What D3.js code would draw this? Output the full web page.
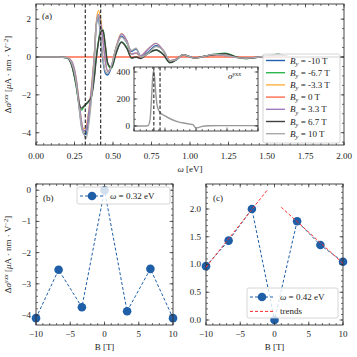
<!DOCTYPE html>
<html><head><meta charset="utf-8">
<script src="https://cdn.jsdelivr.net/npm/d3@7"></script>
<style>
html,body{margin:0;padding:0;background:#fff;}
text{font-family:"Liberation Serif","DejaVu Serif",serif;fill:#222;}
</style></head>
<body><svg id="c" width="357" height="357"></svg>
<script>
// ---------------- DATA ----------------
const omega = [0, 0.15, 0.2, 0.23, 0.26, 0.28, 0.295, 0.31, 0.325, 0.34, 0.36, 0.38, 0.39, 0.405, 0.42, 0.435, 0.45, 0.465, 0.49, 0.52, 0.555, 0.59, 0.62, 0.65, 0.68, 0.72, 0.78, 0.83, 0.87, 0.91, 0.955, 1.03, 1.1, 1.15, 1.23, 1.3, 1.36, 1.45, 1.52, 1.57, 1.63, 1.7, 1.8, 2.0];
const sM10  = [0, 0, -0.03, -0.3, -1.3, -2.6, -3.6, -4.05, -4.1, -3.4, -2.0, 0.2, 1.6, 2.1, 0.97, -0.2, -0.85, -0.95, -0.5, 0.5, 1.1, 0.75, 0.3, 0.42, 0.05, 0.2, 0.6, 0.3, -0.22, -0.15, 0.12, -0.06, 0.05, 0.14, 0.08, -0.02, -0.07, 0.0, 0.04, 0.06, 0.02, 0, 0, 0];
const sM67  = [0, 0, -0.05, -0.4, -1.5, -2.5, -2.8, -2.65, -2.5, -2.4, -2.05, -0.9, -0.1, 0.8, 1.43, 1.45, 0.6, -0.35, -0.6, 0.2, 0.8, 0.5, -0.05, 0.02, -0.05, 0.15, 0.37, 0.1, -0.3, -0.15, 0.12, -0.05, 0.05, 0.12, 0.2, 0.0, -0.08, 0.0, 0.08, 0.15, 0.03, -0.01, 0, 0];
const sM33  = [0, 0, -0.02, -0.2, -1.1, -2.4, -3.4, -3.8, -3.7, -3.0, -1.6, 0.3, 1.7, 2.45, 2.0, 0.9, -0.2, -0.75, -0.5, 0.5, 1.25, 0.85, 0.15, 0.2, 0.05, 0.35, 0.72, 0.3, -0.2, -0.12, 0.1, -0.05, 0.03, 0.1, 0.08, -0.02, -0.07, 0.0, 0.05, 0.07, 0.02, -0.01, 0, 0];
const s0    = [0, 0, 0, 0, 0, 0, 0, 0, 0, 0, 0, 0, 0, 0, 0, 0, 0, 0, 0, 0, 0, 0, 0, 0, 0, 0, 0, 0, 0, 0, 0, 0, 0, 0, 0, 0, 0, 0, 0, 0, 0, 0, 0, 0];
const sP33  = [0, 0, -0.02, -0.2, -1.1, -2.4, -3.4, -3.9, -3.85, -3.1, -1.7, 0.2, 1.6, 2.25, 1.78, 0.85, -0.2, -0.75, -0.5, 0.45, 1.22, 0.85, 0.15, 0.22, 0.05, 0.35, 0.72, 0.3, -0.2, -0.12, 0.1, -0.05, 0.04, 0.12, 0.08, -0.02, -0.07, 0.0, 0.05, 0.08, 0.02, -0.01, 0, 0];
const sP67  = [0, 0, -0.05, -0.4, -1.45, -2.45, -2.7, -2.6, -2.48, -2.35, -2.1, -1.0, -0.2, 0.75, 1.35, 1.4, 0.6, -0.3, -0.55, 0.2, 0.78, 0.45, -0.05, 0.0, -0.08, 0.15, 0.37, 0.1, -0.3, -0.15, 0.12, -0.05, 0.05, 0.12, 0.18, 0.0, -0.08, 0.0, 0.07, 0.13, 0.03, -0.01, 0, 0];
const sP10  = [0, 0, -0.03, -0.3, -1.3, -2.7, -3.7, -4.05, -4.3, -3.7, -2.2, 0.1, 1.5, 2.2, 1.05, -0.1, -0.75, -0.85, -0.45, 0.45, 1.05, 0.75, 0.35, 0.46, 0.0, 0.15, 0.55, 0.3, -0.2, -0.15, 0.12, -0.06, 0.05, 0.14, 0.08, -0.02, -0.07, 0.0, 0.04, 0.06, 0.02, 0, 0, 0];
const seriesLabels = ["-10", "-6.7", "-3.3", "0", "3.3", "6.7", "10"];
const seriesColors = ["#1f5fab", "#2db84d", "#ffb040", "#ff6a4d", "#a07cbf", "#404040", "#aaaaaa"];

const insetOmega  = [0, 0.2, 0.23, 0.26, 0.28, 0.3, 0.315, 0.33, 0.35, 0.37, 0.4, 0.42, 0.5, 0.6, 0.7, 0.8, 0.9, 0.95, 1.0, 1.05, 1.1, 1.2, 1.4, 2.0];
const insetValues = [0, 0, 5, 50, 180, 350, 410, 370, 250, 160, 115, 100, 75, 50, 33, 22, 14, 10, -15, -10, -3, 2, 3, 3];

const vlines = [0.32, 0.42];

const B = [-10, -6.7, -3.3, 0, 3.3, 6.7, 10];
const valB = [-4.1, -2.55, -3.75, 0.0, -3.88, -2.52, -4.1];
const valC = [0.97, 1.43, 2.0, 0.0, 1.78, 1.35, 1.05];
const trendLeftB = [-10, -1], trendLeftV = [0.95, 2.35];
const trendRightB = [1, 10], trendRightV = [2.03, 1.02];

const xTicksA = [0, 0.25, 0.5, 0.75, 1.0, 1.25, 1.5, 1.75, 2.0];
const yTicksA = [-4, -2, 0, 2];
const yTicksInset = [0, 200, 400];
const xTicksB = [-10, -5, 0, 5, 10];
const yTicksB = [-4, -3, -2, -1, 0];
const yTicksC = [0, 0.5, 1.0, 1.5, 2.0];

// ---------------- HELPERS ----------------
const svg = d3.select("#c");
const FS = 9;
const minus = s => s.replace(/-/g, "\u2212");

function rich(t, parts, size) {
  let shift = 0;
  parts.forEach(p => {
    const ts = t.append("tspan").text(p.t);
    const target = p.sup ? -0.38 * size : (p.sub ? 0.25 * size : 0);
    if (target - shift !== 0) ts.attr("dy", target - shift);
    shift = target;
    if (p.sup || p.sub) ts.attr("font-size", size * 0.72);
    if (p.i) ts.attr("font-style", "italic");
  });
}

function frame(g, x, y, xMaj, xMin, yMaj, yMin) {
  const [x0, x1] = x.range(), [y1, y0] = y.range();
  const L = 3.5, l = 2;
  const tk = g.append("g").attr("stroke", "#333").attr("stroke-width", 0.7);
  const xs = [...xMaj.map(v => [v, L]), ...xMin.map(v => [v, l])];
  const ys = [...yMaj.map(v => [v, L]), ...yMin.map(v => [v, l])];
  xs.forEach(([v, len]) => {
    const px = x(v);
    tk.append("line").attr("x1", px).attr("x2", px).attr("y1", y1).attr("y2", y1 - len);
    tk.append("line").attr("x1", px).attr("x2", px).attr("y1", y0).attr("y2", y0 + len);
  });
  ys.forEach(([v, len]) => {
    const py = y(v);
    tk.append("line").attr("y1", py).attr("y2", py).attr("x1", x0).attr("x2", x0 + len);
    tk.append("line").attr("y1", py).attr("y2", py).attr("x1", x1).attr("x2", x1 - len);
  });
  g.append("rect").attr("x", x0).attr("y", y0).attr("width", x1 - x0).attr("height", y1 - y0)
    .attr("fill", "none").attr("stroke", "#333").attr("stroke-width", 0.9);
}
function range(a, b, s) { const r = []; for (let v = a; v <= b + 1e-9; v += s) r.push(+v.toFixed(6)); return r; }

function ylabel(cx, cy) {
  const t = svg.append("text").attr("transform", `translate(${cx},${cy}) rotate(-90)`)
    .attr("text-anchor", "middle").attr("font-size", FS);
  rich(t, [{t: "\u0394"}, {t: "\u03c3", i: true}, {t: "yxx", i: true, sup: true},
           {t: " [", }, {t: "\u03bc", i: true}, {t: "A \u00b7 nm \u00b7 V"}, {t: "\u22122", sup: true}, {t: "]"}], FS);
}

// ---------------- PANEL A ----------------
const xa = d3.scaleLinear().domain([0, 2]).range([36, 344]);
const ya = d3.scaleLinear().domain([-4.65, 2.8]).range([145, 4]);
const ga = svg.append("g");
ga.append("clipPath").attr("id", "clipA").append("rect").attr("x", 36).attr("y", 4).attr("width", 308).attr("height", 141);
const line = d3.line().x((d, i) => xa(omega[i])).y(d => ya(d)).curve(d3.curveMonotoneX);
const seriesVals = [sM10, sM67, sM33, s0, sP33, sP67, sP10];
const curves = ga.append("g").attr("clip-path", "url(#clipA)");
seriesVals.forEach((vals, k) => {
  curves.append("path").attr("d", line(vals)).attr("fill", "none")
    .attr("stroke", seriesColors[k]).attr("stroke-width", 1.4);
});
vlines.forEach(v => {
  curves.append("line").attr("x1", xa(v)).attr("x2", xa(v)).attr("y1", 4).attr("y2", 145)
    .attr("stroke", "#222").attr("stroke-width", 1.1).attr("stroke-dasharray", "3.5,2");
});
frame(ga, xa, ya, xTicksA, range(0, 2, 0.05), yTicksA, range(-4.5, 2.5, 0.5));
xTicksA.forEach(v => ga.append("text").attr("x", xa(v)).attr("y", 158.5).attr("text-anchor", "middle")
  .attr("font-size", FS).text(v.toFixed(2)));
yTicksA.forEach(v => ga.append("text").attr("x", 31).attr("y", ya(v) + 3).attr("text-anchor", "end")
  .attr("font-size", FS).text(minus(String(v))));
{
  const t = ga.append("text").attr("x", 190).attr("y", 171.5).attr("text-anchor", "middle").attr("font-size", FS);
  rich(t, [{t: "\u03c9", i: true}, {t: " [eV]"}], FS);
}
ga.append("text").attr("x", 42).attr("y", 19).attr("font-size", FS).text("(a)");
ylabel(11, 74.5);

// inset
const xi = d3.scaleLinear().domain([0, 2]).range([134, 258]);
const yi = d3.scaleLinear().domain([-37, 437]).range([131, 67]);
const gi = svg.append("g");
gi.append("rect").attr("x", 134).attr("y", 67).attr("width", 124).attr("height", 64).attr("fill", "#fff");
gi.append("path").attr("d", d3.line().x((d, i) => xi(insetOmega[i])).y(d => yi(d)).curve(d3.curveMonotoneX)(insetValues))
  .attr("fill", "none").attr("stroke", "#999").attr("stroke-width", 1.4);
vlines.forEach(v => {
  gi.append("line").attr("x1", xi(v)).attr("x2", xi(v)).attr("y1", 67).attr("y2", 131)
    .attr("stroke", "#222").attr("stroke-width", 1.1).attr("stroke-dasharray", "3.5,2");
});
frame(gi, xi, yi, range(0, 2, 0.5), range(0, 2, 0.1), yTicksInset, range(0, 400, 50));
yTicksInset.forEach(v => gi.append("text").attr("x", 130).attr("y", yi(v) + 3).attr("text-anchor", "end")
  .attr("font-size", FS).text(v));
{
  const t = gi.append("text").attr("x", 228).attr("y", 79).attr("font-size", FS);
  rich(t, [{t: "\u03c3", i: true}, {t: "yxx", i: true, sup: true}], FS);
}

// legend A
{
  const lg = svg.append("g");
  lg.append("rect").attr("x", 263).attr("y", 54).attr("width", 77).attr("height", 89).attr("rx", 2)
    .attr("fill", "#fff").attr("fill-opacity", 0.8).attr("stroke", "#ccc").attr("stroke-width", 0.8);
  seriesLabels.forEach((lab, k) => {
    const yy = 60.5 + k * 12.2;
    lg.append("line").attr("x1", 266).attr("x2", 285).attr("y1", yy).attr("y2", yy)
      .attr("stroke", seriesColors[k]).attr("stroke-width", 1.4);
    const t = lg.append("text").attr("x", 290).attr("y", yy + 3).attr("font-size", FS);
    rich(t, [{t: "B", i: true}, {t: "y", i: true, sub: true}, {t: " = " + lab + " T"}], FS);
  });
}

// ---------------- PANEL B & C ----------------
const blue = "#1f5fa8";
function pointPanel(x0, x1, ydom, vals, ticksY, minorY, fmt, label, legendSpec) {
  const x = d3.scaleLinear().domain([-10, 10]).range([x0, x1]);
  const y = d3.scaleLinear().domain(ydom).range([325, 184]);
  const g = svg.append("g");
  g.append("path").attr("d", d3.line().x((d, i) => x(B[i])).y(d => y(d))(vals))
    .attr("fill", "none").attr("stroke", blue).attr("stroke-width", 1).attr("stroke-dasharray", "3,2");
  vals.forEach((v, i) => g.append("circle").attr("cx", x(B[i])).attr("cy", y(v)).attr("r", 4.3).attr("fill", blue));
  frame(g, x, y, xTicksB, range(-10, 10, 1), ticksY, minorY);
  xTicksB.forEach(v => g.append("text").attr("x", x(v)).attr("y", 336.5).attr("text-anchor", "middle")
    .attr("font-size", FS).text(minus(String(v))));
  ticksY.forEach(v => g.append("text").attr("x", x0 - 5).attr("y", y(v) + 3).attr("text-anchor", "end")
    .attr("font-size", FS).text(fmt(v)));
  g.append("text").attr("x", (x0 + x1) / 2).attr("y", 350).attr("text-anchor", "middle").attr("font-size", FS).text("B [T]");
  g.append("text").attr("x", x0 + 7).attr("y", 201).attr("font-size", FS).text(label);
  return {g, x, y};
}
const pb = pointPanel(36, 173, [-4.32, 0.2], valB, yTicksB, range(-4.2, 0.2, 0.2), v => minus(String(v)), "(b)");
ylabel(11, 254.5);
const pc = pointPanel(206, 343, [-0.09, 2.45], valC, yTicksC, range(0, 2.4, 0.1), v => v.toFixed(1), "(c)");
// trends
[[trendLeftB, trendLeftV], [trendRightB, trendRightV]].forEach(([bs, vs]) => {
  pc.g.append("path").attr("d", d3.line().x((d, i) => pc.x(bs[i])).y(d => pc.y(d))(vs))
    .attr("fill", "none").attr("stroke", "#ff2a2a").attr("stroke-width", 1).attr("stroke-dasharray", "3,2");
});

function legendPts(g, bx, by, bw, bh, rows) {
  g.append("rect").attr("x", bx).attr("y", by).attr("width", bw).attr("height", bh).attr("rx", 2)
    .attr("fill", "#fff").attr("fill-opacity", 0.8).attr("stroke", "#ccc").attr("stroke-width", 0.8);
  rows.forEach((r, k) => {
    const yy = by + 9 + k * 14.4;
    g.append("line").attr("x1", bx + 3).attr("x2", bx + 27).attr("y1", yy).attr("y2", yy)
      .attr("stroke", r.color).attr("stroke-width", 1).attr("stroke-dasharray", "3,2");
    if (r.marker) g.append("circle").attr("cx", bx + 15).attr("cy", yy).attr("r", 4.3).attr("fill", r.color);
    const t = g.append("text").attr("x", bx + 33).attr("y", yy + 3).attr("font-size", FS);
    rich(t, r.parts, FS);
  });
}
legendPts(pb.g, 77, 187, 93, 17, [{color: blue, marker: true, parts: [{t: "\u03c9", i: true}, {t: " = 0.32 eV"}]}]);
legendPts(pc.g, 247, 288, 91, 30, [
  {color: blue, marker: true, parts: [{t: "\u03c9", i: true}, {t: " = 0.42 eV"}]},
  {color: "#ff2a2a", marker: false, parts: [{t: "trends"}]}]);
</script></body></html>
